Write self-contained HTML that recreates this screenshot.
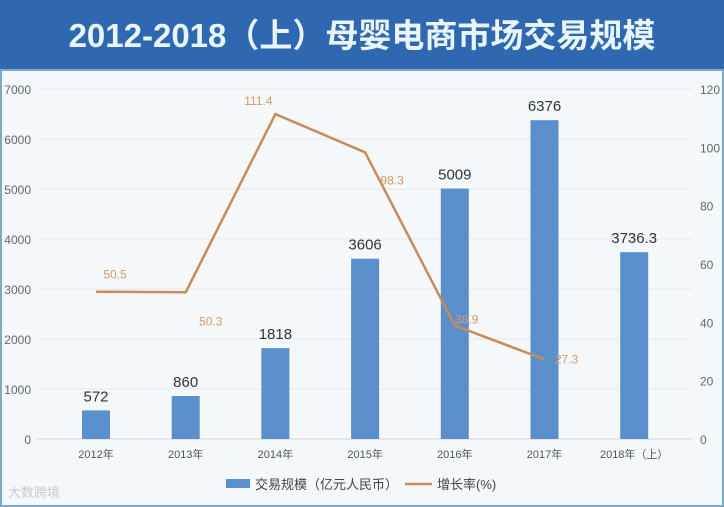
<!DOCTYPE html>
<html><head><meta charset="utf-8"><style>
body{margin:0;width:724px;height:507px;overflow:hidden;background:#f4f8fb;font-family:"Liberation Sans","Noto Sans CJK SC",sans-serif}
#title{position:absolute;left:0;top:0;width:724px;height:70px;background:#2f68b0;color:#e8f6fb;font-size:33px;font-weight:bold;text-align:center;line-height:72px;letter-spacing:0px}
</style></head><body>
<div id="title">2012-2018（上）母婴电商市场交易规模</div>
<svg id="c" width="724" height="507" style="position:absolute;left:0;top:0"></svg>
<script>
const categories=["2012年","2013年","2014年","2015年","2016年","2017年","2018年（上）"];
const volume=[572,860,1818,3606,5009,6376,3736.3];
const volumeLabels=["572","860","1818","3606","5009","6376","3736.3"];
const growth=[50.5,50.3,111.4,98.3,38.9,27.3];
const growthLabels=["50.5","50.3","111.4","98.3","38.9","27.3"];
const leftTicks=[0,1000,2000,3000,4000,5000,6000,7000];
const rightTicks=[0,20,40,60,80,100,120];
const NS="http://www.w3.org/2000/svg";
const svg=document.getElementById('c');
const y0=439,y1=89,x0=37,x1=692;
const yL=v=>y0-(v/7000)*(y0-y1);
const yR=v=>y0-(v/120)*(y0-y1);
const xC=i=>96+i*89.7;
function mk(t,a,txt){const e=document.createElementNS(NS,t);for(const k in a)e.setAttribute(k,a[k]);if(txt!==undefined)e.textContent=txt;svg.appendChild(e);return e;}
mk('rect',{x:1,y:70,width:722,height:436,fill:'none',stroke:'#7fa9c9','stroke-width':2});
leftTicks.forEach(v=>{
 const l=mk('line',{x1:x0,x2:x1,y1:yL(v),y2:yL(v),stroke:v===0?'#cfd6dc':'#e3e7ea','stroke-width':1});
 
 
 const t=mk('text',{x:31,y:yL(v)+5,'text-anchor':'end','font-size':12,fill:'#666'},String(v));
 
 
});
rightTicks.forEach(v=>{
 const t=mk('text',{x:700,y:yR(v)+5,'font-size':12,fill:'#666'},String(v));
 
 
});
categories.forEach((c,i)=>{
 const t=mk('text',{x:xC(i),y:458,'text-anchor':'middle','font-size':11,fill:'#555'},c);
 
 
});
volume.forEach((v,i)=>{
 const r=mk('rect',{x:xC(i)-14,y:yL(v),width:28,height:y0-yL(v),fill:'#5b8fcc'});
 
 
 const t=mk('text',{x:xC(i),y:yL(v)-9,'text-anchor':'middle','font-size':15,fill:'#333'},volumeLabels[i]);
 
 
});
const pts=growth.map((g,i)=>xC(i)+','+yR(g)).join(' ');
const pl=mk('polyline',{points:pts,fill:'none',stroke:'#c98a55','stroke-width':2.5});


const offs=[[19,-17],[25,29],[-17,-13],[27,28],[12,-6],[22,0]];
growth.forEach((g,i)=>{
 const t=mk('text',{x:xC(i)+offs[i][0],y:yR(g)+offs[i][1]+4,'text-anchor':'middle','font-size':12,fill:'#d39a63'},growthLabels[i]);
 
 
});
const lb=mk('rect',{x:226,y:479,width:24,height:9,fill:'#5b8fcc'});


const lt=mk('text',{x:255,y:489,'font-size':13,fill:'#444'},'交易规模（亿元人民币）');


const ll=mk('line',{x1:405,x2:432,y1:484,y2:484,stroke:'#c98a55','stroke-width':2.5});


const lt2=mk('text',{x:437,y:489,'font-size':13,fill:'#444'},'增长率(%)');


const wm=mk('text',{x:8,y:497,'font-size':13,fill:'#c8ccd0'},'大数跨境');


</script>
</body></html>
